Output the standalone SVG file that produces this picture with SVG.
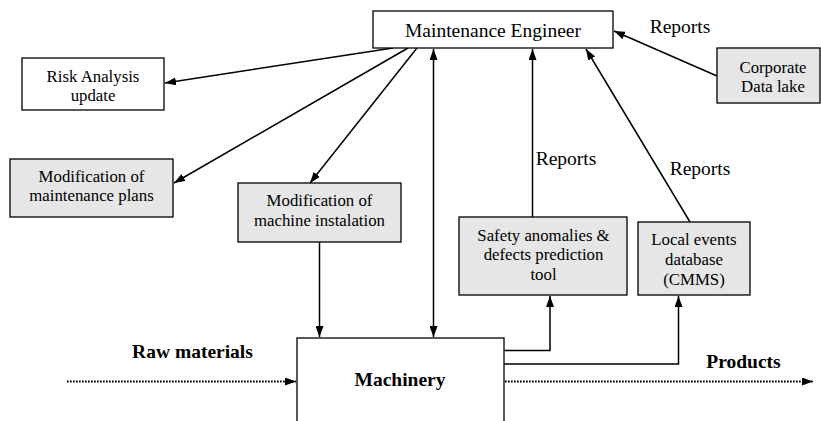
<svg xmlns="http://www.w3.org/2000/svg" width="821" height="421" viewBox="0 0 821 421">
  <style>
    .box { stroke: #000; stroke-width: 1.3; }
    .white { fill: #fff; }
    .grey { fill: #e6e6e6; }
    .t { font-family: 'Liberation Serif', 'DejaVu Serif', 'Times New Roman', serif; fill: #000; text-anchor: middle; }
    .small { font-size: 16.8px; }
    .big { font-size: 19.5px; }
    .bold { font-weight: bold; }
    .edge { fill: none; stroke: #000; stroke-width: 1.5; }
    .dotted { fill: none; stroke: #000; stroke-width: 2.2; stroke-dasharray: 1.7 1.3; }
  </style>
  <defs>
    <marker id="arrow" viewBox="0 0 11 8" refX="11" refY="4" markerWidth="11" markerHeight="8" markerUnits="userSpaceOnUse" orient="auto-start-reverse">
      <path d="M0,0 L11,4 L0,8 Z" fill="#000"/>
    </marker>
  </defs>

  <rect width="821" height="421" fill="#fff"/>

  <!-- connectors -->
  <g id="connectors">
    <line class="edge" x1="393" y1="48" x2="165" y2="83" marker-end="url(#arrow)"/>
    <line class="edge" x1="408" y1="48" x2="174" y2="183" marker-end="url(#arrow)"/>
    <line class="edge" x1="417" y1="48" x2="310" y2="183" marker-end="url(#arrow)"/>
    <line class="edge" x1="319.5" y1="242" x2="319.5" y2="337" marker-end="url(#arrow)"/>
    <line class="edge" x1="433.5" y1="49" x2="433.5" y2="337" marker-start="url(#arrow)" marker-end="url(#arrow)"/>
    <line class="edge" x1="532.5" y1="217" x2="532.5" y2="49" marker-end="url(#arrow)"/>
    <line class="edge" x1="690" y1="222" x2="586" y2="49" marker-end="url(#arrow)"/>
    <line class="edge" x1="717" y1="76" x2="614" y2="31" marker-end="url(#arrow)"/>
    <polyline class="edge" points="504,350.5 550,350.5 550,296" marker-end="url(#arrow)"/>
    <polyline class="edge" points="504,364 678.5,364 678.5,296" marker-end="url(#arrow)"/>
    <line class="dotted" x1="67" y1="381.5" x2="296" y2="381.5" marker-end="url(#arrow)"/>
    <line class="dotted" x1="505" y1="381.5" x2="813" y2="381.5" marker-end="url(#arrow)"/>
    <text class="t big" x="680" y="33">Reports</text>
    <text class="t big" x="566" y="165">Reports</text>
    <text class="t big" x="700" y="175">Reports</text>
  </g>

  <g id="maintenance-engineer">
    <rect class="box white" x="373" y="11" width="240" height="37"/>
    <text class="t big" x="493" y="37">Maintenance Engineer</text>
  </g>

  <g id="risk-analysis">
    <rect class="box white" x="22" y="58" width="142" height="52"/>
    <text class="t small" x="93" y="82">Risk Analysis</text>
    <text class="t small" x="93" y="101">update</text>
  </g>

  <g id="maintenance-plans">
    <rect class="box grey" x="10" y="159" width="163" height="58"/>
    <text class="t small" x="91.5" y="182">Modification of</text>
    <text class="t small" x="91.5" y="201">maintenance plans</text>
  </g>

  <g id="machine-installation">
    <rect class="box grey" x="238" y="183" width="163" height="59"/>
    <text class="t small" x="319.5" y="206">Modification of</text>
    <text class="t small" x="319.5" y="226">machine instalation</text>
  </g>

  <g id="corporate-data-lake">
    <rect class="box grey" x="717" y="48" width="103" height="55"/>
    <text class="t small" x="773" y="73">Corporate</text>
    <text class="t small" x="773" y="92">Data lake</text>
  </g>

  <g id="prediction-tool">
    <rect class="box grey" x="459" y="217" width="168" height="78"/>
    <text class="t small" x="543.5" y="241">Safety anomalies &amp;</text>
    <text class="t small" x="543.5" y="260">defects prediction</text>
    <text class="t small" x="543.5" y="279.5">tool</text>
  </g>

  <g id="local-events">
    <rect class="box grey" x="638" y="222" width="112" height="73"/>
    <text class="t small" x="694" y="245">Local events</text>
    <text class="t small" x="694" y="265">database</text>
    <text class="t small" x="694" y="285">(CMMS)</text>
  </g>

  <g id="machinery">
    <rect class="box white" x="297" y="338" width="207" height="100"/>
    <text class="t big bold" x="400" y="386">Machinery</text>
  </g>

  <g id="flow-labels">
    <text class="t big bold" x="192.5" y="358">Raw materials</text>
    <text class="t big bold" x="743.5" y="368">Products</text>
  </g>
</svg>
